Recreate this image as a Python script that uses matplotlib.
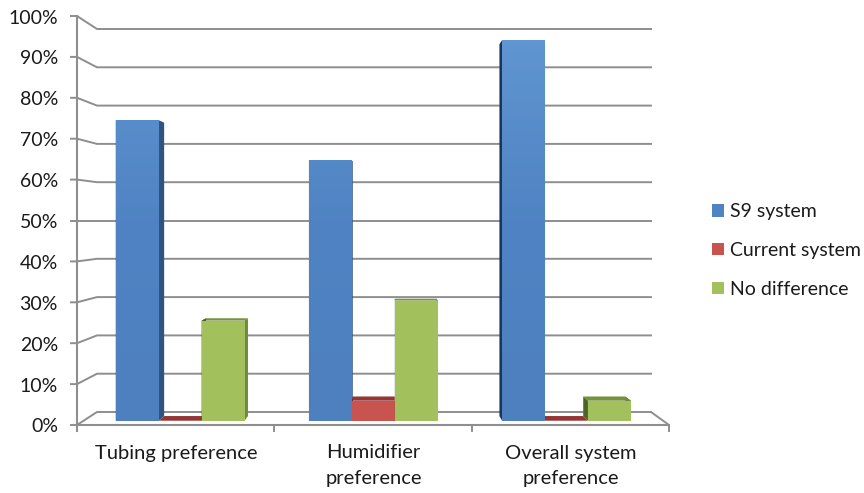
import numpy as np
import matplotlib.pyplot as plt
from matplotlib.colors import LinearSegmentedColormap
from matplotlib.patches import Patch, Polygon

plt.rcParams['font.family'] = ['Lato', 'DejaVu Sans']

categories = ['Tubing preference', 'Humidifier\npreference', 'Overall system\npreference']
series_names = ['S9 system', 'Current system', 'No difference']
s9_system = [75, 65, 95]
current_system = [0, 5, 0]
no_difference = [25, 30, 5]
y_ticks = [0, 10, 20, 30, 40, 50, 60, 70, 80, 90, 100]

# front colour, top, right side, left side
blue = ['#4f83c3', '#3d6594', '#2f5480', '#17375e']
red = ['#c9534f', '#943634', '#943634', '#632523']
green = ['#a2c05c', '#76923c', '#71893f', '#4f6228']

GRID = '#8e8e8e'
TEXT = '#1a1a1a'
BAR_WIDTH = 1 / 4.5
D_FRONT, D_BACK = 0.33, 0.69


def project(x, v, d):
    # x in category units, v in percent, d = depth into the chart box (0 front, 1 back)
    left = 77 + 20 * d
    right = 669 - 18 * d
    bottom = 425 - 13 * d
    top = 16 + 13 * d
    return left + (right - left) * x / 3, bottom + (top - bottom) * v / 100


def draw_bar(ax, x0, value, colors, shade=None):
    x1 = x0 + BAR_WIDTH
    faces = [
        (colors[1], [(x0, value, D_FRONT), (x1, value, D_FRONT), (x1, value, D_BACK), (x0, value, D_BACK)]),
        (colors[2], [(x1, 0, D_FRONT), (x1, value, D_FRONT), (x1, value, D_BACK), (x1, 0, D_BACK)]),
        (colors[3], [(x0, 0, D_FRONT), (x0, value, D_FRONT), (x0, value, D_BACK), (x0, 0, D_BACK)]),
        (colors[0], [(x0, 0, D_FRONT), (x1, 0, D_FRONT), (x1, value, D_FRONT), (x0, value, D_FRONT)]),
    ]
    for color, corners in faces:
        pts = [project(*c) for c in corners]
        ax.add_patch(Polygon(pts, closed=True, facecolor=color, edgecolor='none', zorder=3))
    if shade is not None:
        # the tall blue fronts get a little lighter towards the top
        pts = np.array([project(*c) for c in faces[-1][1]])
        _, y_floor = project(0, 0, D_FRONT)
        _, y_full = project(0, 100, D_FRONT)
        img = ax.imshow(np.linspace(0, 1, 64).reshape(-1, 1), cmap=shade, aspect='auto', zorder=3.5,
                        extent=(pts[:, 0].min(), pts[:, 0].max(), y_floor, y_full), origin='lower')
        clip = Polygon(pts, closed=True, transform=ax.transData)
        img.set_clip_path(clip)


fig = plt.figure(figsize=(8.64, 4.93), dpi=100)
ax = fig.add_axes([0, 0, 1, 1])

blue_shade = LinearSegmentedColormap.from_list('blue_shade', ['#4e80bf', '#4f83c3', '#6197d2'])

# back wall gridlines and the slanted bit on the side wall
for t in y_ticks:
    xa, ya = project(0, t, 0)
    xb, yb = project(0, t, 1)
    xc, yc = project(3, t, 1)
    ax.plot([xa - 6, xa, xb, xc], [ya, ya, yb, yc], color=GRID, lw=1.4, zorder=1)
    ax.text(58, ya + 2, f'{t}%', ha='right', va='center', fontsize=14, color=TEXT)

# axis lines and floor
x_top, y_top = project(0, 100, 0)
x_end, y_end = project(3, 0, 0)
x_bk, y_bk = project(3, 0, 1)
ax.plot([x_top, x_top], [y_top, y_end + 6], color=GRID, lw=1.5, zorder=2)
ax.plot([x_top, x_end], [y_end, y_end], color=GRID, lw=1.5, zorder=2)
ax.plot([x_bk, x_end, x_end], [y_bk, y_end, y_end + 6], color=GRID, lw=1.4, zorder=2)
for i in range(1, 3):
    xt, yt = project(i, 0, 0)
    ax.plot([xt, xt], [yt, yt + 6], color=GRID, lw=1.4, zorder=2)

for i in range(len(categories)):
    start = i + 0.5 - 1.5 * BAR_WIDTH
    draw_bar(ax, start, s9_system[i], blue, shade=blue_shade)
    draw_bar(ax, start + BAR_WIDTH, current_system[i], red)
    draw_bar(ax, start + 2 * BAR_WIDTH, no_difference[i], green)
    xl, _ = project(i + 0.5, 0, 0)
    ax.text(xl + 0.5, 444.5, categories[i], ha='center', va='top', fontsize=14.5,
            color=TEXT, linespacing=1.6)

ax.set_xlim(0, 864)
ax.set_ylim(493, 0)
ax.axis('off')

handles = [Patch(facecolor=c[0], label=n) for c, n in zip([blue, red, green], series_names)]
ax.legend(handles=handles, loc='center left', bbox_to_anchor=(712 / 864, 1 - 250.5 / 493),
          frameon=False, fontsize=14, handlelength=0.62, handleheight=0.62,
          handletextpad=0.3, labelspacing=1.12, labelcolor=TEXT, borderpad=0, borderaxespad=0)

fig.savefig('out.png', dpi=100)
